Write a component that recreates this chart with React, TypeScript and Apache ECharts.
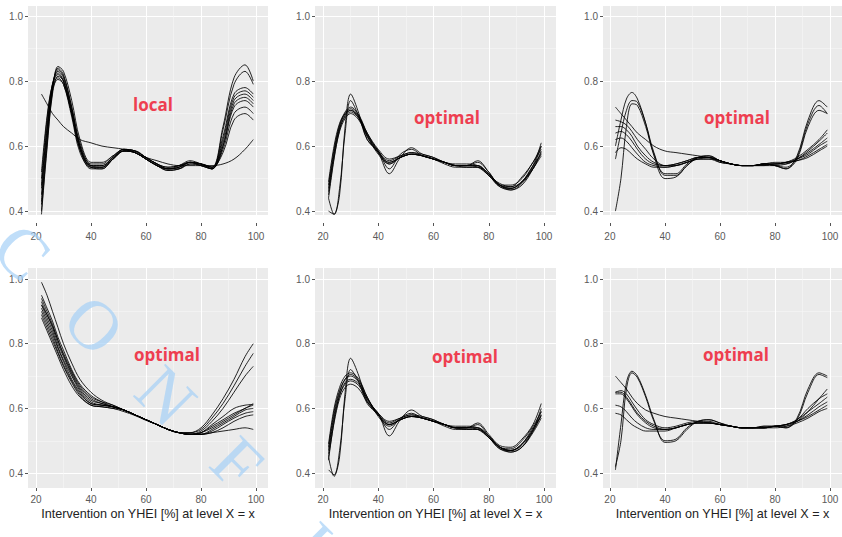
import React, { useEffect, useRef } from "react";
import * as echarts from "echarts";

// ---------- data ----------
const xs = [22, 24, 26, 28, 30, 33, 36, 40, 44, 48, 52, 56, 60, 64, 68, 72, 76, 80, 84, 88, 92, 96, 99];
const xTicks = [20, 40, 60, 80, 100];
const xMinor = [30, 50, 70, 90];
const yTicks = [0.4, 0.6, 0.8, 1.0];
const yMinor = [0.5, 0.7, 0.9];
const panelLabels = ["local", "optimal", "optimal", "optimal", "optimal", "optimal"];
const xTitle = "Intervention on YHEI [%] at level X = x";
const watermarkLetters = ["C", "O", "N", "F", "I"];

// top-left ("local")
const panelA = [
  [0.40, 0.60, 0.77, 0.845, 0.83, 0.74, 0.62, 0.55, 0.55, 0.57, 0.59, 0.585, 0.565, 0.545, 0.535, 0.54, 0.55, 0.545, 0.535, 0.66, 0.81, 0.85, 0.80],
  [0.42, 0.62, 0.78, 0.84, 0.82, 0.72, 0.61, 0.545, 0.545, 0.57, 0.59, 0.58, 0.56, 0.54, 0.53, 0.54, 0.555, 0.545, 0.53, 0.65, 0.79, 0.83, 0.79],
  [0.45, 0.64, 0.78, 0.835, 0.815, 0.72, 0.60, 0.54, 0.54, 0.565, 0.585, 0.58, 0.56, 0.54, 0.53, 0.535, 0.55, 0.545, 0.535, 0.63, 0.76, 0.78, 0.76],
  [0.47, 0.66, 0.79, 0.83, 0.81, 0.71, 0.60, 0.535, 0.535, 0.565, 0.59, 0.585, 0.565, 0.545, 0.53, 0.535, 0.55, 0.54, 0.53, 0.62, 0.75, 0.77, 0.75],
  [0.50, 0.68, 0.79, 0.825, 0.80, 0.70, 0.59, 0.535, 0.53, 0.56, 0.585, 0.58, 0.56, 0.54, 0.525, 0.53, 0.545, 0.545, 0.535, 0.61, 0.74, 0.76, 0.74],
  [0.52, 0.69, 0.79, 0.82, 0.80, 0.71, 0.60, 0.54, 0.535, 0.56, 0.585, 0.585, 0.565, 0.545, 0.53, 0.53, 0.545, 0.54, 0.53, 0.60, 0.73, 0.75, 0.73],
  [0.39, 0.59, 0.76, 0.815, 0.80, 0.70, 0.59, 0.53, 0.53, 0.56, 0.585, 0.58, 0.56, 0.54, 0.525, 0.53, 0.55, 0.545, 0.53, 0.60, 0.72, 0.74, 0.72],
  [0.48, 0.65, 0.78, 0.81, 0.79, 0.70, 0.59, 0.54, 0.54, 0.565, 0.59, 0.585, 0.565, 0.545, 0.535, 0.54, 0.55, 0.54, 0.53, 0.59, 0.70, 0.72, 0.70],
  [0.43, 0.62, 0.77, 0.805, 0.79, 0.69, 0.58, 0.535, 0.535, 0.56, 0.585, 0.58, 0.56, 0.54, 0.53, 0.535, 0.55, 0.545, 0.535, 0.58, 0.68, 0.70, 0.68],
  [0.76, 0.73, 0.70, 0.68, 0.66, 0.64, 0.62, 0.61, 0.60, 0.595, 0.59, 0.58, 0.565, 0.555, 0.545, 0.54, 0.54, 0.54, 0.54, 0.545, 0.56, 0.59, 0.62],
];

// top-middle
const panelB = [
  [0.44, 0.39, 0.45, 0.66, 0.76, 0.70, 0.62, 0.58, 0.515, 0.565, 0.595, 0.575, 0.565, 0.55, 0.54, 0.54, 0.555, 0.52, 0.48, 0.475, 0.505, 0.55, 0.60],
  [0.40, 0.39, 0.47, 0.64, 0.74, 0.69, 0.62, 0.585, 0.53, 0.575, 0.59, 0.57, 0.56, 0.55, 0.54, 0.54, 0.55, 0.52, 0.48, 0.48, 0.50, 0.55, 0.59],
  [0.46, 0.58, 0.66, 0.70, 0.715, 0.69, 0.635, 0.58, 0.55, 0.565, 0.575, 0.57, 0.56, 0.55, 0.54, 0.54, 0.535, 0.51, 0.48, 0.47, 0.49, 0.54, 0.61],
  [0.48, 0.59, 0.665, 0.705, 0.72, 0.695, 0.64, 0.585, 0.555, 0.57, 0.58, 0.57, 0.56, 0.55, 0.54, 0.54, 0.54, 0.51, 0.485, 0.475, 0.49, 0.53, 0.58],
  [0.44, 0.56, 0.65, 0.695, 0.71, 0.69, 0.64, 0.59, 0.56, 0.57, 0.58, 0.575, 0.565, 0.55, 0.545, 0.545, 0.54, 0.515, 0.48, 0.465, 0.485, 0.53, 0.57],
  [0.47, 0.575, 0.655, 0.69, 0.705, 0.685, 0.635, 0.585, 0.545, 0.565, 0.575, 0.57, 0.56, 0.55, 0.54, 0.535, 0.535, 0.51, 0.475, 0.465, 0.48, 0.53, 0.585],
  [0.45, 0.565, 0.645, 0.685, 0.70, 0.68, 0.63, 0.58, 0.55, 0.565, 0.575, 0.57, 0.56, 0.545, 0.535, 0.535, 0.535, 0.51, 0.475, 0.47, 0.49, 0.535, 0.60],
  [0.49, 0.60, 0.67, 0.70, 0.71, 0.685, 0.63, 0.575, 0.545, 0.565, 0.575, 0.57, 0.56, 0.55, 0.54, 0.54, 0.54, 0.515, 0.48, 0.47, 0.49, 0.54, 0.575],
];

// top-right
const panelC = [
  [0.60, 0.68, 0.745, 0.765, 0.745, 0.67, 0.57, 0.50, 0.505, 0.54, 0.565, 0.57, 0.555, 0.545, 0.54, 0.54, 0.545, 0.54, 0.53, 0.57, 0.68, 0.74, 0.72],
  [0.56, 0.64, 0.71, 0.74, 0.735, 0.67, 0.58, 0.51, 0.51, 0.54, 0.565, 0.57, 0.555, 0.545, 0.54, 0.54, 0.545, 0.54, 0.535, 0.565, 0.67, 0.725, 0.70],
  [0.40, 0.50, 0.66, 0.73, 0.725, 0.66, 0.575, 0.515, 0.515, 0.545, 0.565, 0.565, 0.55, 0.545, 0.54, 0.54, 0.545, 0.54, 0.53, 0.56, 0.66, 0.71, 0.70],
  [0.72, 0.70, 0.68, 0.66, 0.64, 0.62, 0.60, 0.585, 0.58, 0.575, 0.57, 0.565, 0.555, 0.545, 0.54, 0.54, 0.54, 0.54, 0.545, 0.56, 0.585, 0.615, 0.64],
  [0.68, 0.675, 0.665, 0.645, 0.62, 0.59, 0.56, 0.54, 0.54, 0.55, 0.56, 0.56, 0.55, 0.545, 0.54, 0.54, 0.545, 0.545, 0.55, 0.565, 0.59, 0.62, 0.65],
  [0.66, 0.66, 0.65, 0.63, 0.60, 0.57, 0.55, 0.54, 0.545, 0.555, 0.565, 0.565, 0.555, 0.545, 0.54, 0.54, 0.54, 0.545, 0.545, 0.56, 0.58, 0.605, 0.625],
  [0.64, 0.645, 0.635, 0.615, 0.59, 0.56, 0.545, 0.54, 0.545, 0.555, 0.565, 0.565, 0.555, 0.545, 0.54, 0.54, 0.545, 0.545, 0.55, 0.56, 0.575, 0.60, 0.615],
  [0.62, 0.625, 0.615, 0.595, 0.575, 0.55, 0.54, 0.535, 0.54, 0.55, 0.56, 0.565, 0.555, 0.545, 0.54, 0.54, 0.545, 0.545, 0.55, 0.555, 0.57, 0.59, 0.605],
  [0.58, 0.595, 0.59, 0.575, 0.56, 0.545, 0.535, 0.535, 0.54, 0.55, 0.56, 0.56, 0.555, 0.545, 0.54, 0.54, 0.545, 0.55, 0.55, 0.555, 0.565, 0.585, 0.60],
];

// bottom-left
const panelD = [
  [0.99, 0.95, 0.90, 0.85, 0.80, 0.74, 0.69, 0.65, 0.625, 0.61, 0.595, 0.58, 0.565, 0.55, 0.535, 0.525, 0.525, 0.54, 0.58, 0.63, 0.69, 0.76, 0.80],
  [0.95, 0.91, 0.87, 0.82, 0.78, 0.72, 0.675, 0.64, 0.62, 0.605, 0.595, 0.58, 0.565, 0.55, 0.535, 0.525, 0.525, 0.535, 0.57, 0.615, 0.67, 0.73, 0.77],
  [0.94, 0.90, 0.86, 0.81, 0.77, 0.715, 0.67, 0.635, 0.62, 0.61, 0.595, 0.58, 0.565, 0.55, 0.535, 0.525, 0.52, 0.53, 0.56, 0.60, 0.65, 0.70, 0.73],
  [0.93, 0.89, 0.85, 0.80, 0.76, 0.705, 0.66, 0.625, 0.615, 0.605, 0.595, 0.58, 0.565, 0.55, 0.535, 0.525, 0.52, 0.525, 0.545, 0.565, 0.585, 0.60, 0.615],
  [0.92, 0.88, 0.84, 0.79, 0.75, 0.70, 0.655, 0.62, 0.61, 0.605, 0.595, 0.58, 0.565, 0.55, 0.535, 0.525, 0.52, 0.525, 0.54, 0.56, 0.58, 0.60, 0.61],
  [0.91, 0.87, 0.83, 0.785, 0.745, 0.69, 0.65, 0.615, 0.61, 0.605, 0.595, 0.58, 0.565, 0.55, 0.535, 0.525, 0.52, 0.52, 0.535, 0.555, 0.575, 0.595, 0.60],
  [0.90, 0.86, 0.82, 0.775, 0.735, 0.685, 0.645, 0.615, 0.61, 0.605, 0.595, 0.58, 0.565, 0.55, 0.535, 0.525, 0.52, 0.52, 0.53, 0.55, 0.57, 0.585, 0.59],
  [0.89, 0.85, 0.81, 0.77, 0.73, 0.68, 0.64, 0.61, 0.605, 0.60, 0.595, 0.58, 0.565, 0.55, 0.535, 0.525, 0.52, 0.52, 0.525, 0.54, 0.56, 0.575, 0.58],
  [0.88, 0.84, 0.80, 0.76, 0.72, 0.67, 0.635, 0.61, 0.605, 0.60, 0.59, 0.578, 0.563, 0.55, 0.535, 0.525, 0.52, 0.52, 0.525, 0.53, 0.535, 0.54, 0.535],
  [0.92, 0.89, 0.855, 0.81, 0.765, 0.71, 0.665, 0.63, 0.615, 0.605, 0.595, 0.58, 0.565, 0.55, 0.535, 0.525, 0.52, 0.525, 0.55, 0.575, 0.60, 0.61, 0.612],
];

// bottom-middle
const panelE = [
  [0.45, 0.39, 0.45, 0.65, 0.755, 0.70, 0.62, 0.585, 0.515, 0.565, 0.595, 0.575, 0.565, 0.55, 0.54, 0.54, 0.555, 0.52, 0.485, 0.48, 0.505, 0.55, 0.615],
  [0.41, 0.395, 0.47, 0.63, 0.72, 0.68, 0.615, 0.58, 0.535, 0.57, 0.585, 0.57, 0.56, 0.55, 0.54, 0.54, 0.55, 0.515, 0.48, 0.475, 0.50, 0.545, 0.59],
  [0.47, 0.58, 0.65, 0.69, 0.705, 0.685, 0.635, 0.58, 0.55, 0.565, 0.575, 0.57, 0.56, 0.55, 0.54, 0.54, 0.535, 0.51, 0.48, 0.47, 0.49, 0.535, 0.60],
  [0.48, 0.59, 0.655, 0.69, 0.70, 0.68, 0.63, 0.585, 0.555, 0.57, 0.58, 0.57, 0.56, 0.55, 0.54, 0.54, 0.54, 0.51, 0.48, 0.47, 0.485, 0.53, 0.58],
  [0.44, 0.56, 0.64, 0.68, 0.69, 0.675, 0.63, 0.585, 0.56, 0.57, 0.58, 0.575, 0.565, 0.55, 0.545, 0.545, 0.54, 0.515, 0.48, 0.465, 0.48, 0.525, 0.57],
  [0.46, 0.57, 0.64, 0.675, 0.685, 0.67, 0.625, 0.58, 0.55, 0.565, 0.575, 0.57, 0.56, 0.55, 0.54, 0.535, 0.535, 0.51, 0.475, 0.465, 0.48, 0.53, 0.58],
  [0.45, 0.555, 0.63, 0.665, 0.675, 0.66, 0.62, 0.58, 0.55, 0.565, 0.575, 0.57, 0.56, 0.545, 0.535, 0.535, 0.535, 0.51, 0.475, 0.47, 0.49, 0.535, 0.59],
  [0.49, 0.60, 0.665, 0.70, 0.71, 0.69, 0.635, 0.575, 0.545, 0.565, 0.575, 0.57, 0.56, 0.55, 0.54, 0.54, 0.54, 0.515, 0.48, 0.47, 0.49, 0.54, 0.575],
];

// bottom-right
const panelF = [
  [0.41, 0.55, 0.68, 0.715, 0.70, 0.64, 0.565, 0.495, 0.50, 0.535, 0.56, 0.565, 0.555, 0.545, 0.54, 0.54, 0.545, 0.545, 0.54, 0.57, 0.66, 0.71, 0.70],
  [0.42, 0.50, 0.66, 0.71, 0.695, 0.635, 0.56, 0.50, 0.505, 0.54, 0.56, 0.565, 0.555, 0.545, 0.54, 0.54, 0.54, 0.545, 0.54, 0.565, 0.65, 0.705, 0.695],
  [0.70, 0.68, 0.66, 0.635, 0.615, 0.595, 0.585, 0.575, 0.57, 0.565, 0.56, 0.555, 0.55, 0.545, 0.54, 0.54, 0.54, 0.54, 0.545, 0.56, 0.59, 0.63, 0.66],
  [0.65, 0.65, 0.635, 0.61, 0.585, 0.56, 0.545, 0.535, 0.54, 0.55, 0.555, 0.555, 0.55, 0.545, 0.54, 0.54, 0.54, 0.545, 0.55, 0.565, 0.59, 0.615, 0.635],
  [0.645, 0.645, 0.63, 0.605, 0.58, 0.555, 0.54, 0.535, 0.54, 0.55, 0.555, 0.555, 0.55, 0.545, 0.54, 0.54, 0.54, 0.545, 0.55, 0.56, 0.58, 0.605, 0.62],
  [0.61, 0.605, 0.59, 0.57, 0.555, 0.54, 0.535, 0.535, 0.54, 0.55, 0.555, 0.555, 0.55, 0.545, 0.54, 0.54, 0.54, 0.545, 0.55, 0.56, 0.575, 0.595, 0.61],
  [0.585, 0.58, 0.565, 0.55, 0.54, 0.53, 0.53, 0.53, 0.54, 0.55, 0.555, 0.555, 0.55, 0.545, 0.54, 0.54, 0.54, 0.545, 0.545, 0.555, 0.57, 0.59, 0.60],
  [0.65, 0.655, 0.645, 0.62, 0.595, 0.565, 0.55, 0.54, 0.545, 0.555, 0.56, 0.56, 0.55, 0.545, 0.54, 0.54, 0.545, 0.545, 0.55, 0.565, 0.60, 0.63, 0.645],
];

const panels = [panelA, panelB, panelC, panelD, panelE, panelF];

// ---------- layout ----------
const colLayout = [
  { left: 28, width: 240, xMin: 17.1, xMax: 104.36 },
  { left: 315, width: 241, xMin: 17.1, xMax: 104.34 },
  { left: 603, width: 241, xMin: 17.48, xMax: 104.35 },
];
const rowLayout = [
  { top: 6, height: 209, yMin: 0.388, yMax: 1.031, axisOffset: 8, labelMargin: 8, title: false },
  { top: 268, height: 220, yMin: 0.354, yMax: 1.034, axisOffset: 0, labelMargin: 6, title: true },
];
const labelPos = [
  [153, 104], [447, 117], [737, 117],
  [167, 354], [465, 356], [736, 354],
];
const watermarkPos = [
  [22, 252], [94, 325], [166, 396], [237, 463], [311, 543],
];

const tickFont = "Liberation Sans, Arial, sans-serif";

function buildOption() {
  const grid: any[] = [];
  const xAxis: any[] = [];
  const yAxis: any[] = [];
  const series: any[] = [];

  panels.forEach((curves, p) => {
    const row = rowLayout[Math.floor(p / 3)];
    const col = colLayout[p % 3];
    grid.push({
      left: col.left,
      top: row.top,
      width: col.width,
      height: row.height,
      show: true,
      backgroundColor: "#EBEBEB",
      borderWidth: 0,
    });
    xAxis.push({
      gridIndex: p,
      type: "value",
      min: col.xMin,
      max: col.xMax,
      position: "bottom",
      offset: row.axisOffset,
      axisLine: { show: false },
      axisTick: { show: true, customValues: xTicks, length: 3, lineStyle: { color: "#555", width: 1 } },
      axisLabel: {
        customValues: xTicks,
        color: "#5a5a5a",
        fontSize: 10,
        margin: row.labelMargin,
        fontFamily: tickFont,
      },
      splitLine: { show: true, lineStyle: { color: "#FFFFFF", width: 1.1 } },
      name: row.title ? xTitle : "",
      nameLocation: "middle",
      nameGap: 19,
      nameTextStyle: { color: "#222", fontSize: 12.6, fontFamily: tickFont },
    });
    xAxis.push({
      gridIndex: p,
      type: "value",
      min: col.xMin,
      max: col.xMax,
      position: "bottom",
      axisLine: { show: false },
      axisTick: { show: false, customValues: xMinor },
      axisLabel: { show: false, customValues: xMinor },
      splitLine: { show: true, lineStyle: { color: "#F6F6F6", width: 0.6 } },
    });
    yAxis.push({
      gridIndex: p,
      type: "value",
      min: row.yMin,
      max: row.yMax,
      position: "left",
      axisLine: { show: false },
      axisTick: { show: true, customValues: yTicks, length: 3, lineStyle: { color: "#555", width: 1 } },
      axisLabel: {
        customValues: yTicks,
        color: "#5a5a5a",
        fontSize: 10,
        margin: 5,
        fontFamily: tickFont,
        formatter: (v: number) => v.toFixed(1),
      },
      splitLine: { show: true, lineStyle: { color: "#FFFFFF", width: 1.1 } },
    });
    yAxis.push({
      gridIndex: p,
      type: "value",
      min: row.yMin,
      max: row.yMax,
      position: "left",
      axisLine: { show: false },
      axisTick: { show: false, customValues: yMinor },
      axisLabel: { show: false, customValues: yMinor },
      splitLine: { show: true, lineStyle: { color: "#F6F6F6", width: 0.6 } },
    });

    curves.forEach((curve) => {
      series.push({
        type: "line",
        xAxisIndex: p * 2,
        yAxisIndex: p * 2,
        data: xs.map((x, i) => [x, curve[i]]),
        smooth: 0.35,
        symbol: "none",
        showSymbol: false,
        silent: true,
        z: 3,
        lineStyle: { color: "#000", width: 1, opacity: 0.85 },
      });
    });
  });

  const graphic: any[] = [];
  watermarkLetters.forEach((ch, i) => {
    graphic.push({
      type: "text",
      x: watermarkPos[i][0],
      y: watermarkPos[i][1],
      rotation: -Math.PI / 4,
      z: 1,
      silent: true,
      style: {
        text: ch,
        fill: "rgba(165,208,246,0.7)",
        font: "70px 'Liberation Serif', 'DejaVu Serif', serif",
        textAlign: "center",
        textVerticalAlign: "middle",
      },
    });
  });
  panelLabels.forEach((t, i) => {
    graphic.push({
      type: "text",
      x: labelPos[i][0],
      y: labelPos[i][1],
      z: 100,
      silent: true,
      style: {
        text: t,
        fill: "#EE3E50",
        font: "bold 17px 'Open Sans', 'Noto Sans', sans-serif",
        textAlign: "center",
        textVerticalAlign: "middle",
      },
    });
  });

  return {
    animation: false,
    backgroundColor: "#FFFFFF",
    grid,
    xAxis,
    yAxis,
    series,
    graphic,
  };
}

export default function App() {
  const ref = useRef<HTMLDivElement>(null);
  useEffect(() => {
    if (!ref.current) return;
    const chart = echarts.init(ref.current, null, { renderer: "svg" });
    chart.setOption(buildOption() as any);
    return () => {
      chart.dispose();
    };
  }, []);
  return (
    <div
      ref={ref}
      style={{ position: "fixed", left: 0, top: 0, width: 842, height: 537, background: "#fff" }}
    />
  );
}
